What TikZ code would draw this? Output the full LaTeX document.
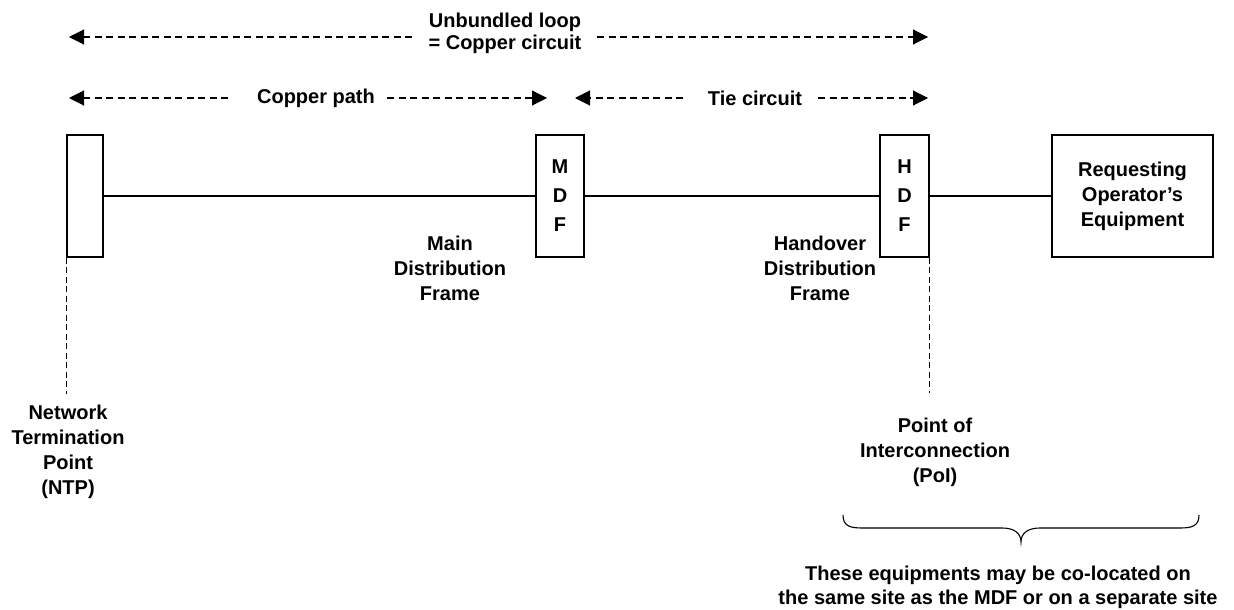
\documentclass[tikz,border=0pt]{standalone}
\usepackage{fontspec}
\setmainfont{Liberation Sans}
\usetikzlibrary{arrows.meta}
\begin{document}
\begin{tikzpicture}[x=1pt,y=-1pt,
  lbl/.style={font=\bfseries\fontsize{20}{25}\selectfont, align=center, inner sep=0pt},
  toplbl/.style={font=\bfseries\fontsize{20}{22}\selectfont, align=center, inner sep=0pt},
  boxnode/.style={draw, line width=1.2pt, inner sep=0pt, align=center, minimum height=122pt},
  conn/.style={line width=1.2pt},
  dimarrow/.style={line width=1.1pt, dash pattern=on 7pt off 4.5pt, -{Triangle[length=15pt,width=15pt]}},
  vdash/.style={line width=1.1pt, dash pattern=on 6pt off 3.5pt}]
\useasboundingbox (0,0) rectangle (1234,610);

% boxes
\node[boxnode, minimum width=36pt] (ntp) at (85,196) {};
\node[boxnode, minimum width=48pt, font=\bfseries\fontsize{20}{29}\selectfont] (mdf) at (560,196) {M\\D\\F};
\node[boxnode, minimum width=49pt, font=\bfseries\fontsize{20}{29}\selectfont] (hdf) at (904.5,196) {H\\D\\F};
\node[boxnode, minimum width=161pt, font=\bfseries\fontsize{20}{25}\selectfont] (req) at (1132.5,196) {Requesting\\Operator’s\\Equipment};

% connectors
\draw[conn] (ntp.east) -- (mdf.west);
\draw[conn] (mdf.east) -- (hdf.west);
\draw[conn] (hdf.east) -- (req.west);

% labels
\node[toplbl] (ul) at (505,33) {Unbundled loop\\= Copper circuit};
\node[lbl] (cp) at (316,98) {Copper path};
\node[lbl] (tc) at (755,98) {Tie circuit};
\node[lbl] (mdflbl) at (450,268) {Main\\Distribution\\Frame};
\node[lbl] (hdflbl) at (820,268) {Handover\\Distribution\\Frame};
\node[lbl] (ntplbl) at (68,452) {Network\\Termination\\Point\\(NTP)};
\node[lbl] (poilbl) at (935,452) {Point of\\Interconnection\\(PoI)};
\node[lbl, font=\bfseries\fontsize{20}{24}\selectfont] (note) at (998,587) {These equipments may be co-located on\\the same site as the MDF or on a separate site};

% dimension arrows
\coordinate (ulA) at (412,37); \coordinate (ulAt) at (69,37);
\coordinate (ulB) at (597,37); \coordinate (ulBt) at (928,37);
\coordinate (cpA) at (228,98); \coordinate (cpAt) at (69,98);
\coordinate (cpB) at (387,98); \coordinate (cpBt) at (547,98);
\coordinate (tcA) at (683,98); \coordinate (tcAt) at (575,98);
\coordinate (tcB) at (818,98); \coordinate (tcBt) at (928,98);
\draw[dimarrow] (ulA) -- (ulAt);
\draw[dimarrow] (ulB) -- (ulBt);
\draw[dimarrow] (cpA) -- (cpAt);
\draw[dimarrow] (cpB) -- (cpBt);
\draw[dimarrow] (tcA) -- (tcAt);
\draw[dimarrow] (tcB) -- (tcBt);

% vertical dashed lines
\coordinate (ntpEnd) at (ntp.south west |- 0,394);
\coordinate (hdfEnd) at (hdf.south east |- 0,393);
\draw[vdash] (ntp.south west) -- (ntpEnd);
\draw[vdash] (hdf.south east) -- (hdfEnd);

% brace
\draw[line width=1.1pt] (843,515) .. controls (843,526) and (850,528) .. (862,528)
  -- (1002,528) .. controls (1014,528) and (1021,533) .. (1021,542)
  .. controls (1021,533) and (1028,528) .. (1040,528)
  -- (1180,528) .. controls (1192,528) and (1199,526) .. (1199,515);
\end{tikzpicture}
\end{document}
